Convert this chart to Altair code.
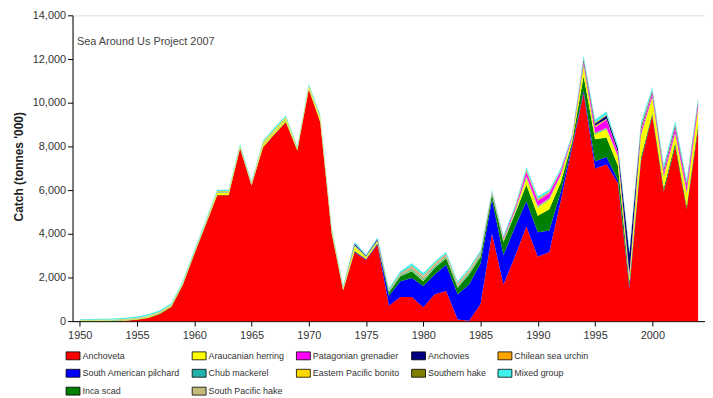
import altair as alt
import pandas as pd

years = list(range(1950, 2005))

# values in thousand tonnes
anchoveta = [0, 0, 0, 0, 20, 60, 140, 330, 650, 1650,
             3050, 4400, 5760, 5760, 7900, 6200, 7950, 8550, 9100, 7800,
             10600, 9100, 4000, 1400, 3150, 2800, 3500, 710, 1110, 1110,
             640, 1230, 1380, 70, 20, 780, 4000, 1680, 2950, 4330,
             2950, 3170, 5500, 7950, 10430, 6990, 7170, 6310, 1500, 7290,
             9400, 5940, 8000, 5120, 8800]
pilchard = [0, 0, 0, 0, 0, 0, 0, 0, 0, 0,
            0, 0, 0, 0, 5, 5, 5, 5, 5, 5,
            5, 5, 10, 10, 40, 30, 50, 450, 720, 870,
            970, 900, 1200, 1160, 1660, 1870, 1570, 1350, 1350, 1160,
            1120, 980, 400, 120, 120, 330, 340, 150, 100, 50,
            30, 20, 20, 15, 20]
inca_scad = [10, 10, 10, 15, 15, 20, 20, 20, 20, 20,
             20, 20, 20, 20, 20, 20, 20, 20, 20, 20,
             20, 20, 20, 20, 30, 20, 20, 150, 220, 300,
             220, 300, 300, 300, 450, 300, 220, 590, 600, 750,
             750, 970, 450, 150, 670, 1010, 900, 650, 200, 150,
             100, 150, 150, 120, 200]
herring = [10, 10, 15, 15, 15, 20, 25, 25, 30, 30,
           40, 50, 100, 100, 60, 50, 100, 100, 100, 60,
           80, 120, 100, 50, 200, 80, 80, 30, 20, 30,
           30, 20, 20, 20, 20, 30, 30, 40, 60, 300,
           370, 450, 300, 150, 450, 230, 370, 400, 200, 1000,
           700, 500, 400, 600, 700]
chub = [10, 10, 10, 10, 10, 15, 15, 15, 15, 20,
        20, 20, 20, 20, 20, 15, 20, 20, 20, 15,
        20, 25, 25, 20, 20, 15, 15, 30, 35, 60,
        60, 50, 50, 50, 50, 50, 30, 35, 35, 40,
        40, 30, 30, 15, 40, 40, 40, 30, 30, 40,
        30, 30, 30, 30, 30]
sp_hake = [15, 15, 20, 20, 25, 25, 25, 25, 25, 30,
           25, 30, 25, 25, 25, 20, 30, 30, 30, 20,
           30, 35, 35, 30, 30, 20, 25, 50, 60, 110,
           110, 90, 80, 90, 90, 80, 40, 50, 55, 60,
           50, 30, 30, 15, 30, 30, 30, 20, 30, 30,
           20, 30, 30, 30, 20]
grenadier = [0, 0, 0, 0, 0, 0, 0, 0, 0, 0,
             0, 0, 0, 0, 0, 0, 0, 0, 0, 0,
             0, 0, 0, 0, 0, 0, 0, 0, 10, 15,
             15, 15, 15, 15, 15, 20, 30, 60, 100, 200,
             230, 220, 150, 60, 100, 250, 380, 150, 100, 150,
             150, 150, 200, 250, 200]
bonito = [10, 10, 10, 10, 15, 15, 20, 20, 20, 25,
          25, 25, 25, 25, 20, 20, 60, 60, 70, 20,
          40, 60, 30, 20, 20, 10, 15, 10, 10, 20,
          20, 20, 20, 20, 20, 15, 10, 10, 15, 40,
          40, 30, 20, 10, 50, 60, 40, 30, 30, 60,
          40, 50, 50, 45, 40]
anchovies = [0, 0, 0, 0, 0, 0, 0, 0, 0, 0,
             0, 0, 0, 0, 0, 0, 0, 0, 0, 0,
             0, 0, 0, 0, 60, 30, 60, 5, 5, 5,
             5, 5, 5, 5, 5, 5, 5, 5, 5, 10,
             10, 10, 10, 10, 80, 100, 140, 150, 900, 80,
             60, 80, 80, 60, 60]
s_hake = [5, 5, 5, 5, 5, 5, 5, 5, 5, 5,
          5, 5, 5, 5, 5, 5, 5, 5, 5, 5,
          5, 5, 5, 5, 5, 5, 5, 5, 10, 10,
          10, 10, 10, 10, 10, 10, 5, 10, 10, 20,
          20, 10, 10, 5, 20, 20, 20, 10, 20, 30,
          20, 20, 20, 20, 20]
urchin = [0, 0, 0, 0, 0, 0, 0, 0, 0, 0,
          0, 0, 0, 0, 0, 0, 0, 0, 0, 0,
          0, 0, 0, 0, 0, 0, 0, 0, 0, 10,
          10, 10, 10, 10, 10, 10, 10, 10, 10, 30,
          20, 20, 10, 5, 30, 30, 30, 20, 20, 40,
          30, 30, 30, 30, 30]
mixed = [30, 40, 40, 45, 45, 50, 60, 60, 55, 70,
         65, 70, 65, 65, 65, 55, 70, 70, 70, 55,
         70, 80, 75, 65, 65, 40, 60, 70, 80, 110,
         110, 80, 80, 80, 80, 80, 70, 80, 80, 120,
         120, 100, 90, 70, 130, 140, 140, 110, 120, 170,
         120, 150, 150, 150, 130]

# stacking order, bottom to top
stack_names = ["Anchoveta", "South American pilchard", "Inca scad",
               "Araucanian herring", "Chub mackerel", "South Pacific hake",
               "Patagonian grenadier", "Eastern Pacific bonito", "Anchovies",
               "Southern hake", "Chilean sea urchin", "Mixed group"]
stack_values = [anchoveta, pilchard, inca_scad, herring, chub, sp_hake,
                grenadier, bonito, anchovies, s_hake, urchin, mixed]
stack_colors = ["#FF0000", "#0000FF", "#008000", "#FFFF00", "#20B2AA",
                "#C4BA7A", "#FF00FF", "#FFD700", "#000080", "#808000",
                "#FFA500", "#3FF2EE"]

# legend reading order (rows of five)
legend_names = ["Anchoveta", "Araucanian herring", "Patagonian grenadier",
                "Anchovies", "Chilean sea urchin",
                "South American pilchard", "Chub mackerel",
                "Eastern Pacific bonito", "Southern hake", "Mixed group",
                "Inca scad", "South Pacific hake"]
color_of = dict(zip(stack_names, stack_colors))
legend_colors = [color_of[n] for n in legend_names]

rows = []
for k, (name, vals) in enumerate(zip(stack_names, stack_values)):
    for yr, v in zip(years, vals):
        rows.append({"year": yr, "species": name, "catch": v, "k": k})
df = pd.DataFrame(rows)

FONT = "Liberation Sans"

area = alt.Chart(df).mark_area(interpolate="linear", opacity=1).encode(
    x=alt.X("year:Q",
            scale=alt.Scale(domain=[1949.37, 2004.6], nice=False, zero=False),
            axis=alt.Axis(values=list(range(1950, 2001, 5)), format="d",
                          title=None, grid=False, tickSize=5, labelPadding=3,
                          labelFontSize=11, labelFont=FONT, labelColor="#333",
                          domainColor="#000", tickColor="#000")),
    y=alt.Y("catch:Q", stack="zero",
            scale=alt.Scale(domain=[0, 14000], nice=False),
            axis=alt.Axis(values=list(range(0, 14001, 2000)), format=",d",
                          title="Catch (tonnes '000)", grid=False, tickSize=5,
                          labelPadding=2, labelFontSize=11, labelFont=FONT,
                          labelColor="#333", domainColor="#000",
                          tickColor="#000", titleFont=FONT, titleFontSize=12,
                          titleFontWeight="bold", titleColor="#222",
                          titleX=-54, titleY=152, titleAngle=270,
                          titleAlign="center", titleBaseline="middle")),
    color=alt.Color("species:N",
                    scale=alt.Scale(domain=legend_names, range=legend_colors),
                    legend=alt.Legend(orient="none", legendX=-7, legendY=335,
                                      direction="horizontal", columns=5,
                                      title=None,
                                      symbolType="M-1,-0.57L1,-0.57L1,0.57L-1,0.57Z",
                                      symbolSize=196, symbolStrokeColor="#000",
                                      symbolStrokeWidth=0.8, symbolOpacity=1,
                                      labelFontSize=9, labelFont=FONT,
                                      labelColor="#333", columnPadding=9,
                                      rowPadding=4, labelOffset=2,
                                      labelLimit=200)),
    order=alt.Order("k:Q", sort="ascending"),
)

note = alt.Chart(pd.DataFrame({"t": ["Sea Around Us Project 2007"]})).mark_text(
    align="left", baseline="middle", fontSize=11, font=FONT, color="#444"
).encode(x=alt.value(4.5), y=alt.value(27), text="t:N")

chart = alt.layer(area, note).properties(
    width=637, height=308,
    autosize=alt.AutoSizeParams(type="none"),
    padding={"left": 65, "top": 6, "right": 0, "bottom": 74},
).configure_view(stroke=None).configure(background="white")

chart.save("out.html", embed_options={"renderer": "svg", "actions": False})
